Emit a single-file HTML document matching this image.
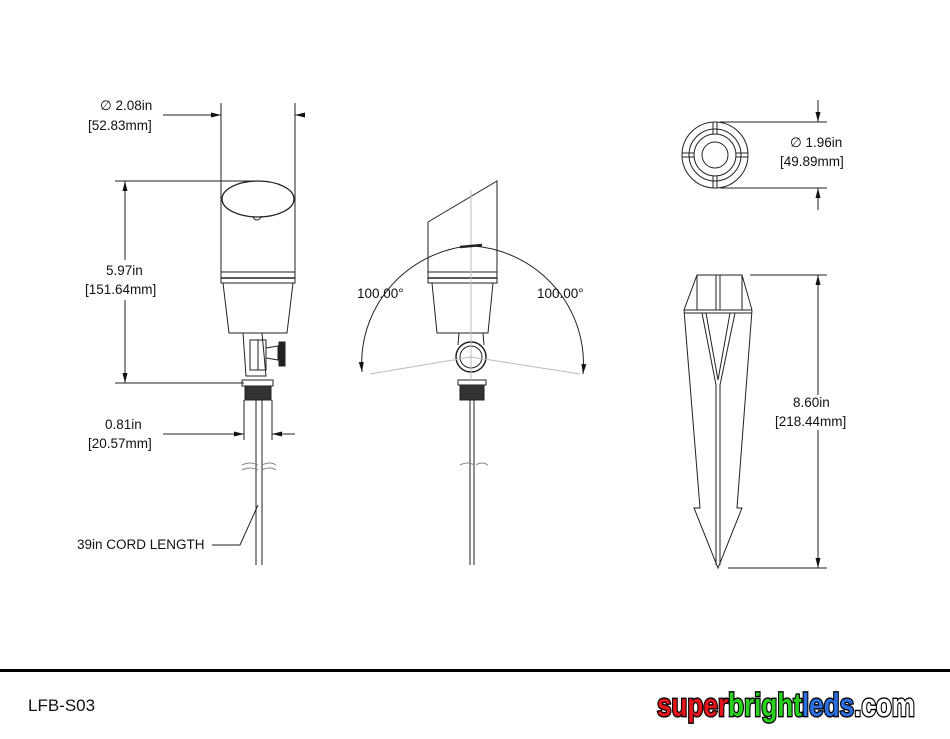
<!DOCTYPE html>
<html><head><style>
body{margin:0;background:#fff;width:950px;height:734px;overflow:hidden}
svg text{font-family:"Liberation Sans",sans-serif;font-size:13.5px;fill:#111}
</style></head><body>
<svg width="950" height="734" viewBox="0 0 950 734" xmlns="http://www.w3.org/2000/svg">
<defs>
<marker id="a" markerWidth="10" markerHeight="6" refX="10" refY="3" orient="auto" markerUnits="userSpaceOnUse"><path d="M0,0.5 L10,3 L0,5.5z" fill="#111"/></marker>
</defs>
<g stroke="#222" stroke-width="1" fill="none">
<line x1="221" y1="103" x2="221" y2="278"/><line x1="295" y1="103" x2="295" y2="278"/>
<line x1="163" y1="115" x2="221" y2="115" marker-end="url(#a)"/>
<line x1="305" y1="115" x2="295" y2="115" marker-end="url(#a)"/>
<line x1="115" y1="181" x2="258" y2="181"/><line x1="115" y1="383" x2="244" y2="383"/>
<line x1="125" y1="260" x2="125" y2="181" marker-end="url(#a)"/>
<line x1="125" y1="300" x2="125" y2="383" marker-end="url(#a)"/>
<ellipse cx="258" cy="199" rx="36" ry="18" stroke-width="1.3"/>
<path d="M253,216 a4,4 0 0 0 8,0"/>
<rect x="221" y="272" width="74" height="11" />
<line x1="221" y1="278" x2="295" y2="278" stroke-width="1.5"/>
<path d="M223,283 L229,333 L287,333 L293,283"/>
<path d="M243,333 L246,376 L266,376 L262,333"/>
<rect x="250" y="340" width="8" height="30"/><rect x="258" y="340" width="8" height="30"/>
<path d="M266,348 L278,346 L278,360 L266,358z"/>
<rect x="279" y="342" width="6" height="24" fill="#222"/>
<rect x="242" y="380" width="31" height="6"/>
<rect x="245" y="386" width="26" height="14" fill="#333"/>
<line x1="256" y1="400" x2="256" y2="565"/><line x1="262" y1="400" x2="262" y2="565"/>
<line x1="244" y1="400" x2="244" y2="440"/><line x1="272" y1="400" x2="272" y2="440"/>
<line x1="163" y1="434" x2="244" y2="434" marker-end="url(#a)"/>
<line x1="295" y1="434" x2="272" y2="434" marker-end="url(#a)"/>
<path d="M242,465 q8,-4 16,0 M262,465 q8,-4 14,0 M242,470 q8,-4 16,0 M262,470 q8,-4 14,0" stroke="#888"/>
<path d="M212,545 L240,545 L258,505"/>
<path d="M428,222 L497,181 L497,272 M428,222 L428,272"/>
<rect x="428" y="272" width="69" height="11"/>
<line x1="428" y1="278" x2="497" y2="278" stroke-width="1.5"/>
<path d="M432,283 L437,333 L488,333 L493,283"/>
<path d="M459,333 L458,345 M483,333 L484,345"/>
<circle cx="471" cy="357" r="15" stroke-width="1.5"/><circle cx="471" cy="357" r="11"/>
<rect x="458" y="380" width="28" height="5"/>
<rect x="460" y="385" width="24" height="15" fill="#333"/>
<line x1="470" y1="400" x2="470" y2="565"/><line x1="474" y1="400" x2="474" y2="565"/>
<path d="M460,465 q8,-4 14,0 M476,465 q6,-4 12,0" stroke="#888"/>
<line x1="471" y1="190" x2="471" y2="380" stroke="#bbb"/>
<path d="M370,374 L471,357 L580,374" stroke="#bbb"/>
<path d="M468,246 A120,118 0 0 0 362,372" marker-end="url(#a)"/>
<path d="M474,246 A120,118 0 0 1 583,374" marker-end="url(#a)"/>
<path d="M460,247 L482,245" stroke-width="2.5"/>
<circle cx="715" cy="155" r="33"/><circle cx="715" cy="155" r="26"/><circle cx="715" cy="155" r="21"/><circle cx="715" cy="155" r="13"/>
<path d="M713,122 v12 M717,122 v12 M713,176 v12 M717,176 v12 M682,153 h12 M682,157 h12 M736,153 h12 M736,157 h12"/>
<line x1="720" y1="122" x2="827" y2="122"/><line x1="720" y1="188" x2="827" y2="188"/>
<line x1="818" y1="100" x2="818" y2="122" marker-end="url(#a)"/>
<line x1="818" y1="210" x2="818" y2="188" marker-end="url(#a)"/>
<path d="M697,275 L742,275 L752,310 L737,508 L742,508 L718,568 L694,508 L700,508 L684,310 Z"/>
<line x1="684" y1="310" x2="752" y2="310"/><line x1="684" y1="313" x2="752" y2="313"/>
<path d="M697,275 L697,310 M742,275 L742,310 M716,275 V310 M720,275 V310"/>
<path d="M702,313 L716,385 L716,565 M706,313 L718,380 L730,313 M735,313 L720,385 L720,565"/>
<line x1="750" y1="275" x2="827" y2="275"/><line x1="728" y1="568" x2="827" y2="568"/>
<line x1="818" y1="395" x2="818" y2="275" marker-end="url(#a)"/>
<line x1="818" y1="430" x2="818" y2="568" marker-end="url(#a)"/>
</g>
<text x="100" y="110">∅ 2.08in</text>
<text x="88" y="130">[52.83mm]</text>
<text x="106" y="275">5.97in</text>
<text x="85" y="294">[151.64mm]</text>
<text x="105" y="429">0.81in</text>
<text x="88" y="448">[20.57mm]</text>
<text x="77" y="549">39in CORD LENGTH</text>
<text x="357" y="298">100.00°</text>
<text x="537" y="298">100.00°</text>
<text x="790" y="147">∅ 1.96in</text>
<text x="780" y="166">[49.89mm]</text>
<text x="793" y="407">8.60in</text>
<text x="775" y="426">[218.44mm]</text>
<rect x="0" y="669" width="950" height="3" fill="#000"/>
<text x="28" y="711" style="font-size:17px">LFB-S03</text>
<g transform="translate(657,716) scale(1,1.35)">
<text x="0" y="0" style="font-size:24px;font-weight:bold;stroke:#000;stroke-width:2;paint-order:stroke" textLength="258" lengthAdjust="spacingAndGlyphs"><tspan fill="#e8141c">super</tspan><tspan fill="#2ad11e">bright</tspan><tspan fill="#2b6fe0">leds</tspan><tspan fill="#fff">.com</tspan></text>
</g>
</svg>
</body></html>
